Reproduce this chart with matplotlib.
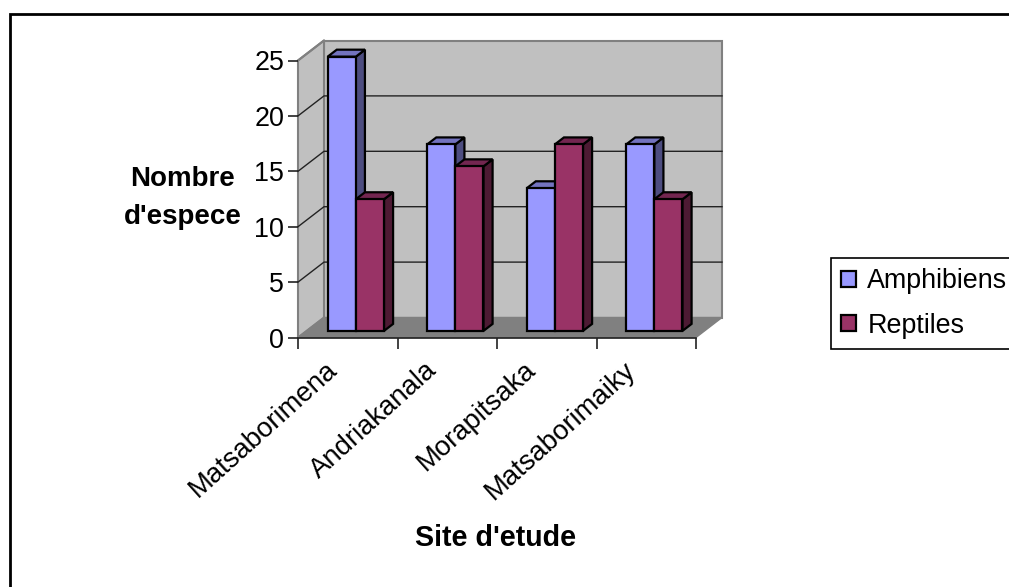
import matplotlib
matplotlib.use("Agg")
import matplotlib.pyplot as plt
from matplotlib.patches import Patch, Polygon, Rectangle

plt.rcParams["font.family"] = ["Liberation Sans", "DejaVu Sans"]

# Data
sites = ["Matsaborimena", "Andriakanala", "Morapitsaka", "Matsaborimaiky"]
amphibiens = [25, 17, 13, 17]
reptiles = [12, 15, 17, 12]
y_ticks = [0, 5, 10, 15, 20, 25]

# Figure size and plot box, in pixels
W, H = 1009, 587
LEFT, RIGHT, TOP, BOTTOM = 298, 696, 60.5, 337.5
FONT = 19.4

# Depth of the 3D box, in data units
DX = 26 / ((RIGHT - LEFT) / 4)
DY = 20 / ((BOTTOM - TOP) / 25)

# Bar layout
BAR_START = 0.212
BAR_W = 0.283
D_FRONT, D_BACK = 0.33, 0.68
BAR_SCALE = 0.99

BLUE = ("#9999FF", "#4D4D80", "#7373BF")
RED = ("#993366", "#4D1A33", "#732650")
WALL = "#C0C0C0"
FLOOR = "#808080"


def proj(x, y, d=0.0):
    return (x + d * DX, y + d * DY)


def face(ax, pts, color, edge="black", lw=1.6, z=2):
    ax.add_patch(Polygon(pts, closed=True, facecolor=color, edgecolor=edge,
                         linewidth=lw, joinstyle="miter", clip_on=False, zorder=z))


def draw_bar(ax, x0, value, colors):
    x1 = x0 + BAR_W
    h = value * BAR_SCALE
    # side, top, then front
    face(ax, [proj(x1, 0, D_FRONT), proj(x1, 0, D_BACK),
              proj(x1, h, D_BACK), proj(x1, h, D_FRONT)], colors[1])
    face(ax, [proj(x0, h, D_FRONT), proj(x1, h, D_FRONT),
              proj(x1, h, D_BACK), proj(x0, h, D_BACK)], colors[2])
    face(ax, [proj(x0, 0, D_FRONT), proj(x1, 0, D_FRONT),
              proj(x1, h, D_FRONT), proj(x0, h, D_FRONT)], colors[0])


fig = plt.figure(figsize=(W / 100, H / 100), dpi=100)
ax = fig.add_axes([LEFT / W, 1 - BOTTOM / H, (RIGHT - LEFT) / W, (BOTTOM - TOP) / H])
ax.set_xlim(0, 4)
ax.set_ylim(0, 25)
ax.patch.set_visible(False)
for side in ["top", "right", "left"]:
    ax.spines[side].set_visible(False)
ax.spines["bottom"].set_linewidth(1.2)
ax.spines["bottom"].set_color("#222222")
ax.spines["bottom"].set_zorder(1.5)

# Outer frame, open past the right and bottom edges
fig.add_artist(Rectangle((9.5 / W, -0.1), 1.2, 1.1 - 13.5 / H, transform=fig.transFigure,
                         facecolor="none", edgecolor="black", linewidth=2.0))

# Walls and floor
face(ax, [proj(0, 0, 1), proj(4, 0, 1), proj(4, 25, 1), proj(0, 25, 1)], WALL, edge="#808080", lw=1.5, z=1)
face(ax, [proj(0, 0), proj(0, 0, 1), proj(0, 25, 1), proj(0, 25)], WALL, edge="#808080", lw=1.5, z=1)
face(ax, [proj(0, 0), proj(4, 0), proj(4, 0, 1), proj(0, 0, 1)], FLOOR, edge="#808080", lw=1.0, z=1.1)

# Gridlines along the left and back walls
for v in y_ticks[1:-1]:
    ax.plot(*zip(proj(0, v), proj(0, v, 1), proj(4, v, 1)), color="#222222", lw=1.0,
            clip_on=False, zorder=1.2)
ax.plot(*zip(proj(0, 25), proj(0, 25, 1)), color="#808080", lw=1.5, clip_on=False, zorder=1.2)

for i in range(len(sites)):
    draw_bar(ax, i + BAR_START, amphibiens[i], BLUE)
    draw_bar(ax, i + BAR_START + BAR_W, reptiles[i], RED)

ax.set_yticks(y_ticks)
ax.tick_params(axis="y", length=7, width=1.2, labelsize=FONT, pad=3, color="#222222")
ax.set_xticks(range(5))
ax.set_xticklabels([])
ax.tick_params(axis="x", which="major", length=8, width=1.2, color="#222222")
# category labels sit left of the slot centres so their ends reach the ticks
ax.set_xticks([i + 0.27 for i in range(4)], minor=True)
ax.set_xticklabels(sites, minor=True, rotation=42, ha="right", rotation_mode="anchor",
                   fontsize=19.8)
ax.tick_params(axis="x", which="minor", length=0, pad=14)

fig.text(183 / W, 1 - 198 / H, "Nombre\nd'espece", fontsize=20, fontweight="bold",
         ha="center", va="center", linespacing=1.58)
fig.text(496 / W, 1 - 538 / H, "Site d'etude", fontsize=20.6, fontweight="bold",
         ha="center", va="center")

handles = [Patch(facecolor=BLUE[0], edgecolor="black", linewidth=1.6, label="Amphibiens"),
           Patch(facecolor=RED[0], edgecolor="black", linewidth=1.6, label="Reptiles")]
leg = fig.legend(handles=handles, loc="upper left", bbox_to_anchor=(831 / W, 1 - 258 / H),
                 borderaxespad=0, fontsize=FONT, frameon=True, fancybox=False,
                 edgecolor="black", framealpha=1, handlelength=0.55, handleheight=0.55,
                 handletextpad=0.42, borderpad=0.38, labelspacing=0.68)
leg.get_frame().set_linewidth(1.2)

fig.savefig("out.png", dpi=100)
